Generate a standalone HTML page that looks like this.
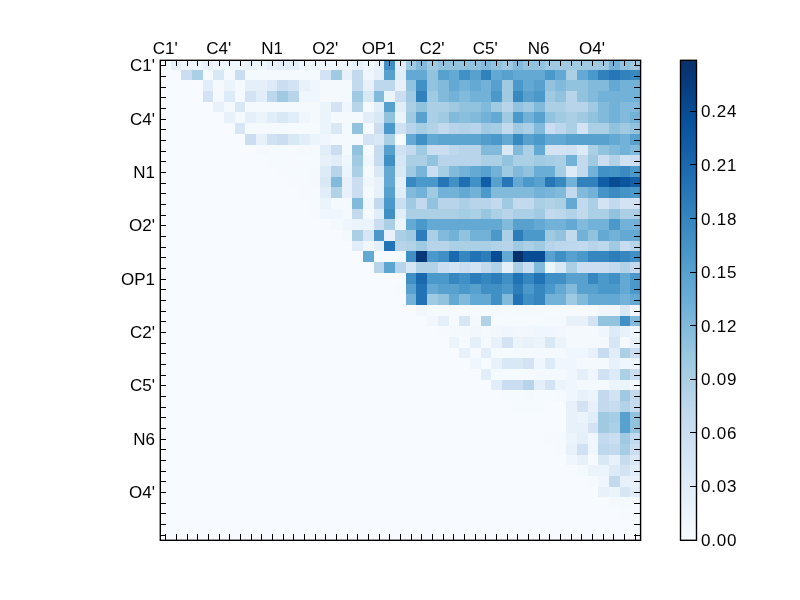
<!DOCTYPE html>
<html><head><meta charset="utf-8"><style>
html,body{margin:0;padding:0;background:#fff;}
body{width:800px;height:600px;overflow:hidden;position:relative;}
svg{position:absolute;left:0;top:0;}
.t{will-change:transform;}
text{font-family:"Liberation Sans",sans-serif;font-size:17px;fill:#000;}
</style></head><body>
<svg width="800" height="600" viewBox="0 0 800 600">
<defs><linearGradient id="cb" x1="0" y1="1" x2="0" y2="0"><stop offset="0.0000" stop-color="#f7fbff"/><stop offset="0.0312" stop-color="#f1f7fd"/><stop offset="0.0625" stop-color="#eaf3fb"/><stop offset="0.0938" stop-color="#e4eff9"/><stop offset="0.1250" stop-color="#deebf7"/><stop offset="0.1562" stop-color="#d8e7f5"/><stop offset="0.1875" stop-color="#d2e3f3"/><stop offset="0.2188" stop-color="#ccdff1"/><stop offset="0.2500" stop-color="#c6dbef"/><stop offset="0.2812" stop-color="#bcd7eb"/><stop offset="0.3125" stop-color="#b2d2e8"/><stop offset="0.3438" stop-color="#a8cee4"/><stop offset="0.3750" stop-color="#9dcae1"/><stop offset="0.4062" stop-color="#91c3de"/><stop offset="0.4375" stop-color="#84bcdb"/><stop offset="0.4688" stop-color="#77b5d9"/><stop offset="0.5000" stop-color="#6aaed6"/><stop offset="0.5312" stop-color="#60a7d2"/><stop offset="0.5625" stop-color="#56a0ce"/><stop offset="0.5938" stop-color="#4b98ca"/><stop offset="0.6250" stop-color="#4191c6"/><stop offset="0.6562" stop-color="#3989c1"/><stop offset="0.6875" stop-color="#3181bd"/><stop offset="0.7188" stop-color="#2979b9"/><stop offset="0.7500" stop-color="#2070b4"/><stop offset="0.7812" stop-color="#1a68ae"/><stop offset="0.8125" stop-color="#1460a8"/><stop offset="0.8438" stop-color="#0e58a2"/><stop offset="0.8750" stop-color="#08509b"/><stop offset="0.9062" stop-color="#08488e"/><stop offset="0.9375" stop-color="#084082"/><stop offset="0.9688" stop-color="#083776"/><stop offset="1.0000" stop-color="#08306b"/></linearGradient><clipPath id="ax"><rect x="160" y="60" width="480" height="480"/></clipPath></defs>
<g clip-path="url(#ax)" shape-rendering="crispEdges">
<rect x="160" y="60" width="480" height="480" fill="#f7fbff"/><rect x="171" y="59" width="10" height="11" fill="#e5eff9"/><rect x="181" y="59" width="11" height="11" fill="#f0f6fd"/><rect x="192" y="59" width="11" height="11" fill="#f0f6fd"/><rect x="203" y="59" width="10" height="11" fill="#e8f1fa"/><rect x="213" y="59" width="11" height="11" fill="#f0f6fd"/><rect x="224" y="59" width="11" height="11" fill="#f0f6fd"/><rect x="235" y="59" width="10" height="11" fill="#f0f6fd"/><rect x="245" y="59" width="11" height="11" fill="#ecf4fb"/><rect x="256" y="59" width="11" height="11" fill="#f0f6fd"/><rect x="267" y="59" width="10" height="11" fill="#e8f1fa"/><rect x="277" y="59" width="11" height="11" fill="#e5eff9"/><rect x="288" y="59" width="11" height="11" fill="#e5eff9"/><rect x="299" y="59" width="11" height="11" fill="#f0f6fd"/><rect x="310" y="59" width="10" height="11" fill="#f0f6fd"/><rect x="320" y="59" width="11" height="11" fill="#f0f6fd"/><rect x="331" y="59" width="11" height="11" fill="#f0f6fd"/><rect x="342" y="59" width="10" height="11" fill="#f0f6fd"/><rect x="352" y="59" width="11" height="11" fill="#e8f1fa"/><rect x="363" y="59" width="11" height="11" fill="#f0f6fd"/><rect x="374" y="59" width="10" height="11" fill="#e8f1fa"/><rect x="384" y="59" width="11" height="11" fill="#4090c5"/><rect x="395" y="59" width="11" height="11" fill="#e1edf8"/><rect x="406" y="59" width="10" height="11" fill="#9fcae1"/><rect x="416" y="59" width="11" height="11" fill="#81badb"/><rect x="427" y="59" width="11" height="11" fill="#9fcae1"/><rect x="438" y="59" width="11" height="11" fill="#91c3de"/><rect x="449" y="59" width="10" height="11" fill="#91c3de"/><rect x="459" y="59" width="11" height="11" fill="#91c3de"/><rect x="470" y="59" width="11" height="11" fill="#91c3de"/><rect x="481" y="59" width="10" height="11" fill="#81badb"/><rect x="491" y="59" width="11" height="11" fill="#91c3de"/><rect x="502" y="59" width="11" height="11" fill="#9fcae1"/><rect x="513" y="59" width="10" height="11" fill="#81badb"/><rect x="523" y="59" width="11" height="11" fill="#91c3de"/><rect x="534" y="59" width="11" height="11" fill="#91c3de"/><rect x="545" y="59" width="10" height="11" fill="#9fcae1"/><rect x="555" y="59" width="11" height="11" fill="#9fcae1"/><rect x="566" y="59" width="11" height="11" fill="#9fcae1"/><rect x="577" y="59" width="11" height="11" fill="#9fcae1"/><rect x="588" y="59" width="10" height="11" fill="#9fcae1"/><rect x="598" y="59" width="11" height="11" fill="#9fcae1"/><rect x="609" y="59" width="11" height="11" fill="#72b2d8"/><rect x="620" y="59" width="10" height="11" fill="#91c3de"/><rect x="630" y="59" width="11" height="11" fill="#9fcae1"/><rect x="181" y="70" width="11" height="10" fill="#cbdef1"/><rect x="192" y="70" width="11" height="10" fill="#abd0e6"/><rect x="203" y="70" width="10" height="10" fill="#f4f9fe"/><rect x="213" y="70" width="11" height="10" fill="#d9e8f5"/><rect x="224" y="70" width="11" height="10" fill="#f4f9fe"/><rect x="235" y="70" width="10" height="10" fill="#cbdef1"/><rect x="245" y="70" width="11" height="10" fill="#f4f9fe"/><rect x="256" y="70" width="11" height="10" fill="#f4f9fe"/><rect x="267" y="70" width="10" height="10" fill="#f4f9fe"/><rect x="277" y="70" width="11" height="10" fill="#f4f9fe"/><rect x="288" y="70" width="11" height="10" fill="#f4f9fe"/><rect x="299" y="70" width="11" height="10" fill="#f4f9fe"/><rect x="310" y="70" width="10" height="10" fill="#f4f9fe"/><rect x="320" y="70" width="11" height="10" fill="#d3e3f3"/><rect x="331" y="70" width="11" height="10" fill="#9fcae1"/><rect x="342" y="70" width="10" height="10" fill="#e8f1fa"/><rect x="352" y="70" width="11" height="10" fill="#c3daee"/><rect x="363" y="70" width="11" height="10" fill="#f0f6fd"/><rect x="374" y="70" width="10" height="10" fill="#e5eff9"/><rect x="384" y="70" width="11" height="10" fill="#58a1cf"/><rect x="395" y="70" width="11" height="10" fill="#e1edf8"/><rect x="406" y="70" width="10" height="10" fill="#64a9d3"/><rect x="416" y="70" width="11" height="10" fill="#64a9d3"/><rect x="427" y="70" width="11" height="10" fill="#91c3de"/><rect x="438" y="70" width="11" height="10" fill="#58a1cf"/><rect x="449" y="70" width="10" height="10" fill="#64a9d3"/><rect x="459" y="70" width="11" height="10" fill="#4191c6"/><rect x="470" y="70" width="11" height="10" fill="#58a1cf"/><rect x="481" y="70" width="10" height="10" fill="#3181bd"/><rect x="491" y="70" width="11" height="10" fill="#64a9d3"/><rect x="502" y="70" width="11" height="10" fill="#58a1cf"/><rect x="513" y="70" width="10" height="10" fill="#64a9d3"/><rect x="523" y="70" width="11" height="10" fill="#64a9d3"/><rect x="534" y="70" width="11" height="10" fill="#64a9d3"/><rect x="545" y="70" width="10" height="10" fill="#4b98ca"/><rect x="555" y="70" width="11" height="10" fill="#64a9d3"/><rect x="566" y="70" width="11" height="10" fill="#abd0e6"/><rect x="577" y="70" width="11" height="10" fill="#64a9d3"/><rect x="588" y="70" width="10" height="10" fill="#4b98ca"/><rect x="598" y="70" width="11" height="10" fill="#3181bd"/><rect x="609" y="70" width="11" height="10" fill="#2777b8"/><rect x="620" y="70" width="10" height="10" fill="#3181bd"/><rect x="630" y="70" width="11" height="10" fill="#3989c1"/><rect x="203" y="80" width="10" height="11" fill="#e1edf8"/><rect x="213" y="80" width="11" height="11" fill="#f4f9fe"/><rect x="224" y="80" width="11" height="11" fill="#ecf4fb"/><rect x="235" y="80" width="10" height="11" fill="#f4f9fe"/><rect x="245" y="80" width="11" height="11" fill="#e5eff9"/><rect x="256" y="80" width="11" height="11" fill="#e5eff9"/><rect x="267" y="80" width="10" height="11" fill="#ddeaf7"/><rect x="277" y="80" width="11" height="11" fill="#cbdef1"/><rect x="288" y="80" width="11" height="11" fill="#d3e3f3"/><rect x="299" y="80" width="11" height="11" fill="#e8f1fa"/><rect x="310" y="80" width="10" height="11" fill="#f0f6fd"/><rect x="320" y="80" width="11" height="11" fill="#f4f9fe"/><rect x="331" y="80" width="11" height="11" fill="#f4f9fe"/><rect x="342" y="80" width="10" height="11" fill="#f4f9fe"/><rect x="352" y="80" width="11" height="11" fill="#c3daee"/><rect x="363" y="80" width="11" height="11" fill="#e8f1fa"/><rect x="374" y="80" width="10" height="11" fill="#bdd7ec"/><rect x="384" y="80" width="11" height="11" fill="#bdd7ec"/><rect x="395" y="80" width="11" height="11" fill="#e8f1fa"/><rect x="406" y="80" width="10" height="11" fill="#91c3de"/><rect x="416" y="80" width="11" height="11" fill="#4191c6"/><rect x="427" y="80" width="11" height="11" fill="#91c3de"/><rect x="438" y="80" width="11" height="11" fill="#81badb"/><rect x="449" y="80" width="10" height="11" fill="#64a9d3"/><rect x="459" y="80" width="11" height="11" fill="#72b2d8"/><rect x="470" y="80" width="11" height="11" fill="#64a9d3"/><rect x="481" y="80" width="10" height="11" fill="#72b2d8"/><rect x="491" y="80" width="11" height="11" fill="#58a1cf"/><rect x="502" y="80" width="11" height="11" fill="#9fcae1"/><rect x="513" y="80" width="10" height="11" fill="#4b98ca"/><rect x="523" y="80" width="11" height="11" fill="#64a9d3"/><rect x="534" y="80" width="11" height="11" fill="#58a1cf"/><rect x="545" y="80" width="10" height="11" fill="#91c3de"/><rect x="555" y="80" width="11" height="11" fill="#81badb"/><rect x="566" y="80" width="11" height="11" fill="#91c3de"/><rect x="577" y="80" width="11" height="11" fill="#91c3de"/><rect x="588" y="80" width="10" height="11" fill="#81badb"/><rect x="598" y="80" width="11" height="11" fill="#81badb"/><rect x="609" y="80" width="11" height="11" fill="#64a9d3"/><rect x="620" y="80" width="10" height="11" fill="#72b2d8"/><rect x="630" y="80" width="11" height="11" fill="#72b2d8"/><rect x="203" y="91" width="10" height="11" fill="#d3e3f3"/><rect x="213" y="91" width="11" height="11" fill="#f4f9fe"/><rect x="224" y="91" width="11" height="11" fill="#ddeaf7"/><rect x="235" y="91" width="10" height="11" fill="#f4f9fe"/><rect x="245" y="91" width="11" height="11" fill="#d3e3f3"/><rect x="256" y="91" width="11" height="11" fill="#e1edf8"/><rect x="267" y="91" width="10" height="11" fill="#bdd7ec"/><rect x="277" y="91" width="11" height="11" fill="#9fcae1"/><rect x="288" y="91" width="11" height="11" fill="#b7d4ea"/><rect x="299" y="91" width="11" height="11" fill="#f0f6fd"/><rect x="310" y="91" width="10" height="11" fill="#f0f6fd"/><rect x="320" y="91" width="11" height="11" fill="#f4f9fe"/><rect x="331" y="91" width="11" height="11" fill="#f4f9fe"/><rect x="342" y="91" width="10" height="11" fill="#f4f9fe"/><rect x="352" y="91" width="11" height="11" fill="#9fcae1"/><rect x="363" y="91" width="11" height="11" fill="#d9e8f5"/><rect x="374" y="91" width="10" height="11" fill="#81badb"/><rect x="384" y="91" width="11" height="11" fill="#ecf4fb"/><rect x="395" y="91" width="11" height="11" fill="#cbdef1"/><rect x="406" y="91" width="10" height="11" fill="#9fcae1"/><rect x="416" y="91" width="11" height="11" fill="#3181bd"/><rect x="427" y="91" width="11" height="11" fill="#9fcae1"/><rect x="438" y="91" width="11" height="11" fill="#81badb"/><rect x="449" y="91" width="10" height="11" fill="#72b2d8"/><rect x="459" y="91" width="11" height="11" fill="#81badb"/><rect x="470" y="91" width="11" height="11" fill="#72b2d8"/><rect x="481" y="91" width="10" height="11" fill="#72b2d8"/><rect x="491" y="91" width="11" height="11" fill="#4b98ca"/><rect x="502" y="91" width="11" height="11" fill="#9fcae1"/><rect x="513" y="91" width="10" height="11" fill="#3989c1"/><rect x="523" y="91" width="11" height="11" fill="#58a1cf"/><rect x="534" y="91" width="11" height="11" fill="#4b98ca"/><rect x="545" y="91" width="10" height="11" fill="#9fcae1"/><rect x="555" y="91" width="11" height="11" fill="#91c3de"/><rect x="566" y="91" width="11" height="11" fill="#b7d4ea"/><rect x="577" y="91" width="11" height="11" fill="#91c3de"/><rect x="588" y="91" width="10" height="11" fill="#81badb"/><rect x="598" y="91" width="11" height="11" fill="#72b2d8"/><rect x="609" y="91" width="11" height="11" fill="#72b2d8"/><rect x="620" y="91" width="10" height="11" fill="#72b2d8"/><rect x="630" y="91" width="11" height="11" fill="#72b2d8"/><rect x="213" y="102" width="11" height="10" fill="#e8f1fa"/><rect x="224" y="102" width="11" height="10" fill="#f4f9fe"/><rect x="235" y="102" width="10" height="10" fill="#d9e8f5"/><rect x="245" y="102" width="11" height="10" fill="#f4f9fe"/><rect x="256" y="102" width="11" height="10" fill="#f4f9fe"/><rect x="267" y="102" width="10" height="10" fill="#f4f9fe"/><rect x="277" y="102" width="11" height="10" fill="#f4f9fe"/><rect x="288" y="102" width="11" height="10" fill="#f4f9fe"/><rect x="299" y="102" width="11" height="10" fill="#f4f9fe"/><rect x="310" y="102" width="10" height="10" fill="#f4f9fe"/><rect x="320" y="102" width="11" height="10" fill="#ecf4fb"/><rect x="331" y="102" width="11" height="10" fill="#d3e3f3"/><rect x="342" y="102" width="10" height="10" fill="#f0f6fd"/><rect x="352" y="102" width="11" height="10" fill="#b7d4ea"/><rect x="363" y="102" width="11" height="10" fill="#f4f9fe"/><rect x="374" y="102" width="10" height="10" fill="#e1edf8"/><rect x="384" y="102" width="11" height="10" fill="#58a1cf"/><rect x="395" y="102" width="11" height="10" fill="#e1edf8"/><rect x="406" y="102" width="10" height="10" fill="#abd0e6"/><rect x="416" y="102" width="11" height="10" fill="#91c3de"/><rect x="427" y="102" width="11" height="10" fill="#abd0e6"/><rect x="438" y="102" width="11" height="10" fill="#abd0e6"/><rect x="449" y="102" width="10" height="10" fill="#9fcae1"/><rect x="459" y="102" width="11" height="10" fill="#91c3de"/><rect x="470" y="102" width="11" height="10" fill="#91c3de"/><rect x="481" y="102" width="10" height="10" fill="#81badb"/><rect x="491" y="102" width="11" height="10" fill="#9fcae1"/><rect x="502" y="102" width="11" height="10" fill="#b7d4ea"/><rect x="513" y="102" width="10" height="10" fill="#91c3de"/><rect x="523" y="102" width="11" height="10" fill="#9fcae1"/><rect x="534" y="102" width="11" height="10" fill="#81badb"/><rect x="545" y="102" width="10" height="10" fill="#abd0e6"/><rect x="555" y="102" width="11" height="10" fill="#abd0e6"/><rect x="566" y="102" width="11" height="10" fill="#b7d4ea"/><rect x="577" y="102" width="11" height="10" fill="#b7d4ea"/><rect x="588" y="102" width="10" height="10" fill="#9fcae1"/><rect x="598" y="102" width="11" height="10" fill="#81badb"/><rect x="609" y="102" width="11" height="10" fill="#72b2d8"/><rect x="620" y="102" width="10" height="10" fill="#81badb"/><rect x="630" y="102" width="11" height="10" fill="#81badb"/><rect x="224" y="112" width="11" height="11" fill="#e8f1fa"/><rect x="235" y="112" width="10" height="11" fill="#f4f9fe"/><rect x="245" y="112" width="11" height="11" fill="#e5eff9"/><rect x="256" y="112" width="11" height="11" fill="#ecf4fb"/><rect x="267" y="112" width="10" height="11" fill="#e1edf8"/><rect x="277" y="112" width="11" height="11" fill="#d9e8f5"/><rect x="288" y="112" width="11" height="11" fill="#e1edf8"/><rect x="299" y="112" width="11" height="11" fill="#f0f6fd"/><rect x="310" y="112" width="10" height="11" fill="#f4f9fe"/><rect x="320" y="112" width="11" height="11" fill="#ecf4fb"/><rect x="331" y="112" width="11" height="11" fill="#f4f9fe"/><rect x="342" y="112" width="10" height="11" fill="#f4f9fe"/><rect x="352" y="112" width="11" height="11" fill="#f4f9fe"/><rect x="363" y="112" width="11" height="11" fill="#e1edf8"/><rect x="374" y="112" width="10" height="11" fill="#d9e8f5"/><rect x="384" y="112" width="11" height="11" fill="#91c3de"/><rect x="395" y="112" width="11" height="11" fill="#ecf4fb"/><rect x="406" y="112" width="10" height="11" fill="#9fcae1"/><rect x="416" y="112" width="11" height="11" fill="#58a1cf"/><rect x="427" y="112" width="11" height="11" fill="#abd0e6"/><rect x="438" y="112" width="11" height="11" fill="#9fcae1"/><rect x="449" y="112" width="10" height="11" fill="#81badb"/><rect x="459" y="112" width="11" height="11" fill="#89bedc"/><rect x="470" y="112" width="11" height="11" fill="#81badb"/><rect x="481" y="112" width="10" height="11" fill="#72b2d8"/><rect x="491" y="112" width="11" height="11" fill="#64a9d3"/><rect x="502" y="112" width="11" height="11" fill="#9fcae1"/><rect x="513" y="112" width="10" height="11" fill="#4b98ca"/><rect x="523" y="112" width="11" height="11" fill="#72b2d8"/><rect x="534" y="112" width="11" height="11" fill="#58a1cf"/><rect x="545" y="112" width="10" height="11" fill="#91c3de"/><rect x="555" y="112" width="11" height="11" fill="#9fcae1"/><rect x="566" y="112" width="11" height="11" fill="#abd0e6"/><rect x="577" y="112" width="11" height="11" fill="#9fcae1"/><rect x="588" y="112" width="10" height="11" fill="#91c3de"/><rect x="598" y="112" width="11" height="11" fill="#81badb"/><rect x="609" y="112" width="11" height="11" fill="#72b2d8"/><rect x="620" y="112" width="10" height="11" fill="#81badb"/><rect x="630" y="112" width="11" height="11" fill="#72b2d8"/><rect x="235" y="123" width="10" height="11" fill="#d6e6f4"/><rect x="245" y="123" width="11" height="11" fill="#f4f9fe"/><rect x="256" y="123" width="11" height="11" fill="#f4f9fe"/><rect x="267" y="123" width="10" height="11" fill="#f4f9fe"/><rect x="277" y="123" width="11" height="11" fill="#f4f9fe"/><rect x="288" y="123" width="11" height="11" fill="#f5fafe"/><rect x="299" y="123" width="11" height="11" fill="#f5fafe"/><rect x="310" y="123" width="10" height="11" fill="#f5fafe"/><rect x="320" y="123" width="11" height="11" fill="#ecf4fb"/><rect x="331" y="123" width="11" height="11" fill="#d9e8f5"/><rect x="342" y="123" width="10" height="11" fill="#f4f9fe"/><rect x="352" y="123" width="11" height="11" fill="#91c3de"/><rect x="363" y="123" width="11" height="11" fill="#f4f9fe"/><rect x="374" y="123" width="10" height="11" fill="#cbdef1"/><rect x="384" y="123" width="11" height="11" fill="#4b98ca"/><rect x="395" y="123" width="11" height="11" fill="#cfe1f2"/><rect x="406" y="123" width="10" height="11" fill="#b7d4ea"/><rect x="416" y="123" width="11" height="11" fill="#a5cde3"/><rect x="427" y="123" width="11" height="11" fill="#b2d2e8"/><rect x="438" y="123" width="11" height="11" fill="#c3daee"/><rect x="449" y="123" width="10" height="11" fill="#b7d4ea"/><rect x="459" y="123" width="11" height="11" fill="#b2d2e8"/><rect x="470" y="123" width="11" height="11" fill="#b7d4ea"/><rect x="481" y="123" width="10" height="11" fill="#9fcae1"/><rect x="491" y="123" width="11" height="11" fill="#a5cde3"/><rect x="502" y="123" width="11" height="11" fill="#c3daee"/><rect x="513" y="123" width="10" height="11" fill="#9fcae1"/><rect x="523" y="123" width="11" height="11" fill="#abd0e6"/><rect x="534" y="123" width="11" height="11" fill="#81badb"/><rect x="545" y="123" width="10" height="11" fill="#cbdef1"/><rect x="555" y="123" width="11" height="11" fill="#bdd7ec"/><rect x="566" y="123" width="11" height="11" fill="#abd0e6"/><rect x="577" y="123" width="11" height="11" fill="#d3e3f3"/><rect x="588" y="123" width="10" height="11" fill="#abd0e6"/><rect x="598" y="123" width="11" height="11" fill="#abd0e6"/><rect x="609" y="123" width="11" height="11" fill="#91c3de"/><rect x="620" y="123" width="10" height="11" fill="#9fcae1"/><rect x="630" y="123" width="11" height="11" fill="#91c3de"/><rect x="245" y="134" width="11" height="11" fill="#cbdef1"/><rect x="256" y="134" width="11" height="11" fill="#e8f1fa"/><rect x="267" y="134" width="10" height="11" fill="#cfe1f2"/><rect x="277" y="134" width="11" height="11" fill="#cbdef1"/><rect x="288" y="134" width="11" height="11" fill="#d9e8f5"/><rect x="299" y="134" width="11" height="11" fill="#e1edf8"/><rect x="310" y="134" width="10" height="11" fill="#ecf4fb"/><rect x="320" y="134" width="11" height="11" fill="#f0f6fd"/><rect x="331" y="134" width="11" height="11" fill="#f4f9fe"/><rect x="342" y="134" width="10" height="11" fill="#f4f9fe"/><rect x="352" y="134" width="11" height="11" fill="#f4f9fe"/><rect x="363" y="134" width="11" height="11" fill="#d3e3f3"/><rect x="374" y="134" width="10" height="11" fill="#d9e8f5"/><rect x="384" y="134" width="11" height="11" fill="#abd0e6"/><rect x="395" y="134" width="11" height="11" fill="#f5fafe"/><rect x="406" y="134" width="10" height="11" fill="#64a9d3"/><rect x="416" y="134" width="11" height="11" fill="#4090c5"/><rect x="427" y="134" width="11" height="11" fill="#64a9d3"/><rect x="438" y="134" width="11" height="11" fill="#5da5d1"/><rect x="449" y="134" width="10" height="11" fill="#5da5d1"/><rect x="459" y="134" width="11" height="11" fill="#5da5d1"/><rect x="470" y="134" width="11" height="11" fill="#5da5d1"/><rect x="481" y="134" width="10" height="11" fill="#529dcc"/><rect x="491" y="134" width="11" height="11" fill="#4b98ca"/><rect x="502" y="134" width="11" height="11" fill="#64a9d3"/><rect x="513" y="134" width="10" height="11" fill="#3989c1"/><rect x="523" y="134" width="11" height="11" fill="#58a1cf"/><rect x="534" y="134" width="11" height="11" fill="#4b98ca"/><rect x="545" y="134" width="10" height="11" fill="#64a9d3"/><rect x="555" y="134" width="11" height="11" fill="#64a9d3"/><rect x="566" y="134" width="11" height="11" fill="#58a1cf"/><rect x="577" y="134" width="11" height="11" fill="#58a1cf"/><rect x="588" y="134" width="10" height="11" fill="#58a1cf"/><rect x="598" y="134" width="11" height="11" fill="#58a1cf"/><rect x="609" y="134" width="11" height="11" fill="#64a9d3"/><rect x="620" y="134" width="10" height="11" fill="#72b2d8"/><rect x="630" y="134" width="11" height="11" fill="#58a1cf"/><rect x="256" y="145" width="11" height="10" fill="#f4f9fe"/><rect x="267" y="145" width="10" height="10" fill="#f5fafe"/><rect x="277" y="145" width="11" height="10" fill="#f5fafe"/><rect x="288" y="145" width="11" height="10" fill="#f6faff"/><rect x="299" y="145" width="11" height="10" fill="#f4f9fe"/><rect x="310" y="145" width="10" height="10" fill="#f5fafe"/><rect x="320" y="145" width="11" height="10" fill="#e1edf8"/><rect x="331" y="145" width="11" height="10" fill="#cbdef1"/><rect x="342" y="145" width="10" height="10" fill="#f4f9fe"/><rect x="352" y="145" width="11" height="10" fill="#91c3de"/><rect x="363" y="145" width="11" height="10" fill="#f4f9fe"/><rect x="374" y="145" width="10" height="10" fill="#c8dcf0"/><rect x="384" y="145" width="11" height="10" fill="#58a1cf"/><rect x="395" y="145" width="11" height="10" fill="#cfe1f2"/><rect x="406" y="145" width="10" height="10" fill="#c3daee"/><rect x="416" y="145" width="11" height="10" fill="#9fcae1"/><rect x="427" y="145" width="11" height="10" fill="#cbdef1"/><rect x="438" y="145" width="11" height="10" fill="#cbdef1"/><rect x="449" y="145" width="10" height="10" fill="#bdd7ec"/><rect x="459" y="145" width="11" height="10" fill="#b7d4ea"/><rect x="470" y="145" width="11" height="10" fill="#b7d4ea"/><rect x="481" y="145" width="10" height="10" fill="#81badb"/><rect x="491" y="145" width="11" height="10" fill="#81badb"/><rect x="502" y="145" width="11" height="10" fill="#d9e8f5"/><rect x="513" y="145" width="10" height="10" fill="#81badb"/><rect x="523" y="145" width="11" height="10" fill="#abd0e6"/><rect x="534" y="145" width="11" height="10" fill="#64a9d3"/><rect x="545" y="145" width="10" height="10" fill="#d3e3f3"/><rect x="555" y="145" width="11" height="10" fill="#d3e3f3"/><rect x="566" y="145" width="11" height="10" fill="#cfe1f2"/><rect x="577" y="145" width="11" height="10" fill="#ddeaf7"/><rect x="588" y="145" width="10" height="10" fill="#abd0e6"/><rect x="598" y="145" width="11" height="10" fill="#91c3de"/><rect x="609" y="145" width="11" height="10" fill="#81badb"/><rect x="620" y="145" width="10" height="10" fill="#72b2d8"/><rect x="630" y="145" width="11" height="10" fill="#81badb"/><rect x="267" y="155" width="10" height="11" fill="#f5fafe"/><rect x="277" y="155" width="11" height="11" fill="#f5fafe"/><rect x="288" y="155" width="11" height="11" fill="#f6faff"/><rect x="299" y="155" width="11" height="11" fill="#f5fafe"/><rect x="310" y="155" width="10" height="11" fill="#f5fafe"/><rect x="320" y="155" width="11" height="11" fill="#e8f1fa"/><rect x="331" y="155" width="11" height="11" fill="#e1edf8"/><rect x="342" y="155" width="10" height="11" fill="#f0f6fd"/><rect x="352" y="155" width="11" height="11" fill="#9fcae1"/><rect x="363" y="155" width="11" height="11" fill="#f0f6fd"/><rect x="374" y="155" width="10" height="11" fill="#c8dcf0"/><rect x="384" y="155" width="11" height="11" fill="#4090c5"/><rect x="395" y="155" width="11" height="11" fill="#d6e6f4"/><rect x="406" y="155" width="10" height="11" fill="#abd0e6"/><rect x="416" y="155" width="11" height="11" fill="#abd0e6"/><rect x="427" y="155" width="11" height="11" fill="#91c3de"/><rect x="438" y="155" width="11" height="11" fill="#b7d4ea"/><rect x="449" y="155" width="10" height="11" fill="#b7d4ea"/><rect x="459" y="155" width="11" height="11" fill="#b7d4ea"/><rect x="470" y="155" width="11" height="11" fill="#b7d4ea"/><rect x="481" y="155" width="10" height="11" fill="#abd0e6"/><rect x="491" y="155" width="11" height="11" fill="#abd0e6"/><rect x="502" y="155" width="11" height="11" fill="#91c3de"/><rect x="513" y="155" width="10" height="11" fill="#abd0e6"/><rect x="523" y="155" width="11" height="11" fill="#abd0e6"/><rect x="534" y="155" width="11" height="11" fill="#9fcae1"/><rect x="545" y="155" width="10" height="11" fill="#a5cde3"/><rect x="555" y="155" width="11" height="11" fill="#abd0e6"/><rect x="566" y="155" width="11" height="11" fill="#72b2d8"/><rect x="577" y="155" width="11" height="11" fill="#c3daee"/><rect x="588" y="155" width="10" height="11" fill="#9fcae1"/><rect x="598" y="155" width="11" height="11" fill="#cbdef1"/><rect x="609" y="155" width="11" height="11" fill="#b2d2e8"/><rect x="620" y="155" width="10" height="11" fill="#d0e2f2"/><rect x="630" y="155" width="11" height="11" fill="#cbdef1"/><rect x="277" y="166" width="11" height="11" fill="#f6faff"/><rect x="288" y="166" width="11" height="11" fill="#f5fafe"/><rect x="299" y="166" width="11" height="11" fill="#f5fafe"/><rect x="310" y="166" width="10" height="11" fill="#f4f9fe"/><rect x="320" y="166" width="11" height="11" fill="#ddeaf7"/><rect x="331" y="166" width="11" height="11" fill="#b7d4ea"/><rect x="342" y="166" width="10" height="11" fill="#ecf4fb"/><rect x="352" y="166" width="11" height="11" fill="#abd0e6"/><rect x="363" y="166" width="11" height="11" fill="#f4f9fe"/><rect x="374" y="166" width="10" height="11" fill="#d9e8f5"/><rect x="384" y="166" width="11" height="11" fill="#64a9d3"/><rect x="395" y="166" width="11" height="11" fill="#d9e8f5"/><rect x="406" y="166" width="10" height="11" fill="#9fcae1"/><rect x="416" y="166" width="11" height="11" fill="#79b5d9"/><rect x="427" y="166" width="11" height="11" fill="#cbdef1"/><rect x="438" y="166" width="11" height="11" fill="#a5cde3"/><rect x="449" y="166" width="10" height="11" fill="#81badb"/><rect x="459" y="166" width="11" height="11" fill="#72b2d8"/><rect x="470" y="166" width="11" height="11" fill="#64a9d3"/><rect x="481" y="166" width="10" height="11" fill="#58a1cf"/><rect x="491" y="166" width="11" height="11" fill="#72b2d8"/><rect x="502" y="166" width="11" height="11" fill="#9fcae1"/><rect x="513" y="166" width="10" height="11" fill="#81badb"/><rect x="523" y="166" width="11" height="11" fill="#91c3de"/><rect x="534" y="166" width="11" height="11" fill="#6aaed6"/><rect x="545" y="166" width="10" height="11" fill="#6aaed6"/><rect x="555" y="166" width="11" height="11" fill="#a5cde3"/><rect x="566" y="166" width="11" height="11" fill="#ddeaf7"/><rect x="577" y="166" width="11" height="11" fill="#c3daee"/><rect x="588" y="166" width="10" height="11" fill="#72b2d8"/><rect x="598" y="166" width="11" height="11" fill="#4191c6"/><rect x="609" y="166" width="11" height="11" fill="#4594c7"/><rect x="620" y="166" width="10" height="11" fill="#3b8bc2"/><rect x="630" y="166" width="11" height="11" fill="#4b98ca"/><rect x="288" y="177" width="11" height="10" fill="#f6faff"/><rect x="299" y="177" width="11" height="10" fill="#f5fafe"/><rect x="310" y="177" width="10" height="10" fill="#f5f9fe"/><rect x="320" y="177" width="11" height="10" fill="#d9e8f5"/><rect x="331" y="177" width="11" height="10" fill="#81badb"/><rect x="342" y="177" width="10" height="10" fill="#e8f1fa"/><rect x="352" y="177" width="11" height="10" fill="#cbdef1"/><rect x="363" y="177" width="11" height="10" fill="#f0f6fd"/><rect x="374" y="177" width="10" height="10" fill="#e8f1fa"/><rect x="384" y="177" width="11" height="10" fill="#64a9d3"/><rect x="395" y="177" width="11" height="10" fill="#e5eff9"/><rect x="406" y="177" width="10" height="10" fill="#3989c1"/><rect x="416" y="177" width="11" height="10" fill="#4b98ca"/><rect x="427" y="177" width="11" height="10" fill="#4b98ca"/><rect x="438" y="177" width="11" height="10" fill="#2777b8"/><rect x="449" y="177" width="10" height="10" fill="#4191c6"/><rect x="459" y="177" width="11" height="10" fill="#206fb4"/><rect x="470" y="177" width="11" height="10" fill="#4191c6"/><rect x="481" y="177" width="10" height="10" fill="#125ea6"/><rect x="491" y="177" width="11" height="10" fill="#58a1cf"/><rect x="502" y="177" width="11" height="10" fill="#2777b8"/><rect x="513" y="177" width="10" height="10" fill="#64a9d3"/><rect x="523" y="177" width="11" height="10" fill="#4b98ca"/><rect x="534" y="177" width="11" height="10" fill="#58a1cf"/><rect x="545" y="177" width="10" height="10" fill="#2777b8"/><rect x="555" y="177" width="11" height="10" fill="#3989c1"/><rect x="566" y="177" width="11" height="10" fill="#72b2d8"/><rect x="577" y="177" width="11" height="10" fill="#3181bd"/><rect x="588" y="177" width="10" height="10" fill="#3181bd"/><rect x="598" y="177" width="11" height="10" fill="#125ea6"/><rect x="609" y="177" width="11" height="10" fill="#084c95"/><rect x="620" y="177" width="10" height="10" fill="#0b559f"/><rect x="630" y="177" width="11" height="10" fill="#135fa7"/><rect x="299" y="187" width="11" height="11" fill="#f6faff"/><rect x="310" y="187" width="10" height="11" fill="#f5fafe"/><rect x="320" y="187" width="11" height="11" fill="#e1edf8"/><rect x="331" y="187" width="11" height="11" fill="#b2d2e8"/><rect x="342" y="187" width="10" height="11" fill="#e8f1fa"/><rect x="352" y="187" width="11" height="11" fill="#cbdef1"/><rect x="363" y="187" width="11" height="11" fill="#f4f9fe"/><rect x="374" y="187" width="10" height="11" fill="#e8f1fa"/><rect x="384" y="187" width="11" height="11" fill="#58a1cf"/><rect x="395" y="187" width="11" height="11" fill="#e1edf8"/><rect x="406" y="187" width="10" height="11" fill="#81badb"/><rect x="416" y="187" width="11" height="11" fill="#72b2d8"/><rect x="427" y="187" width="11" height="11" fill="#9fcae1"/><rect x="438" y="187" width="11" height="11" fill="#72b2d8"/><rect x="449" y="187" width="10" height="11" fill="#72b2d8"/><rect x="459" y="187" width="11" height="11" fill="#64a9d3"/><rect x="470" y="187" width="11" height="11" fill="#72b2d8"/><rect x="481" y="187" width="10" height="11" fill="#4b98ca"/><rect x="491" y="187" width="11" height="11" fill="#81badb"/><rect x="502" y="187" width="11" height="11" fill="#81badb"/><rect x="513" y="187" width="10" height="11" fill="#81badb"/><rect x="523" y="187" width="11" height="11" fill="#81badb"/><rect x="534" y="187" width="11" height="11" fill="#72b2d8"/><rect x="545" y="187" width="10" height="11" fill="#79b5d9"/><rect x="555" y="187" width="11" height="11" fill="#81badb"/><rect x="566" y="187" width="11" height="11" fill="#c3daee"/><rect x="577" y="187" width="11" height="11" fill="#81badb"/><rect x="588" y="187" width="10" height="11" fill="#72b2d8"/><rect x="598" y="187" width="11" height="11" fill="#4594c7"/><rect x="609" y="187" width="11" height="11" fill="#3b8bc2"/><rect x="620" y="187" width="10" height="11" fill="#4594c7"/><rect x="630" y="187" width="11" height="11" fill="#4b98ca"/><rect x="310" y="198" width="10" height="11" fill="#f5fafe"/><rect x="320" y="198" width="11" height="11" fill="#ecf4fb"/><rect x="331" y="198" width="11" height="11" fill="#f4f9fe"/><rect x="342" y="198" width="10" height="11" fill="#f4f9fe"/><rect x="352" y="198" width="11" height="11" fill="#81badb"/><rect x="363" y="198" width="11" height="11" fill="#f0f6fd"/><rect x="374" y="198" width="10" height="11" fill="#c3daee"/><rect x="384" y="198" width="11" height="11" fill="#4b98ca"/><rect x="395" y="198" width="11" height="11" fill="#cbdef1"/><rect x="406" y="198" width="10" height="11" fill="#9fcae1"/><rect x="416" y="198" width="11" height="11" fill="#c3daee"/><rect x="427" y="198" width="11" height="11" fill="#91c3de"/><rect x="438" y="198" width="11" height="11" fill="#b7d4ea"/><rect x="449" y="198" width="10" height="11" fill="#b7d4ea"/><rect x="459" y="198" width="11" height="11" fill="#abd0e6"/><rect x="470" y="198" width="11" height="11" fill="#b7d4ea"/><rect x="481" y="198" width="10" height="11" fill="#b7d4ea"/><rect x="491" y="198" width="11" height="11" fill="#c3daee"/><rect x="502" y="198" width="11" height="11" fill="#9fcae1"/><rect x="513" y="198" width="10" height="11" fill="#c3daee"/><rect x="523" y="198" width="11" height="11" fill="#c3daee"/><rect x="534" y="198" width="11" height="11" fill="#abd0e6"/><rect x="545" y="198" width="10" height="11" fill="#b2d2e8"/><rect x="555" y="198" width="11" height="11" fill="#abd0e6"/><rect x="566" y="198" width="11" height="11" fill="#64a9d3"/><rect x="577" y="198" width="11" height="11" fill="#c3daee"/><rect x="588" y="198" width="10" height="11" fill="#abd0e6"/><rect x="598" y="198" width="11" height="11" fill="#d3e3f3"/><rect x="609" y="198" width="11" height="11" fill="#c3daee"/><rect x="620" y="198" width="10" height="11" fill="#d3e3f3"/><rect x="630" y="198" width="11" height="11" fill="#d3e3f3"/><rect x="310" y="209" width="10" height="10" fill="#f6faff"/><rect x="320" y="209" width="11" height="10" fill="#f0f6fd"/><rect x="331" y="209" width="11" height="10" fill="#f0f6fd"/><rect x="342" y="209" width="10" height="10" fill="#f4f9fe"/><rect x="352" y="209" width="11" height="10" fill="#c3daee"/><rect x="363" y="209" width="11" height="10" fill="#f4f9fe"/><rect x="374" y="209" width="10" height="10" fill="#e1edf8"/><rect x="384" y="209" width="11" height="10" fill="#4090c5"/><rect x="395" y="209" width="11" height="10" fill="#e1edf8"/><rect x="406" y="209" width="10" height="10" fill="#abd0e6"/><rect x="416" y="209" width="11" height="10" fill="#abd0e6"/><rect x="427" y="209" width="11" height="10" fill="#abd0e6"/><rect x="438" y="209" width="11" height="10" fill="#abd0e6"/><rect x="449" y="209" width="10" height="10" fill="#abd0e6"/><rect x="459" y="209" width="11" height="10" fill="#a5cde3"/><rect x="470" y="209" width="11" height="10" fill="#abd0e6"/><rect x="481" y="209" width="10" height="10" fill="#97c6df"/><rect x="491" y="209" width="11" height="10" fill="#abd0e6"/><rect x="502" y="209" width="11" height="10" fill="#b7d4ea"/><rect x="513" y="209" width="10" height="10" fill="#abd0e6"/><rect x="523" y="209" width="11" height="10" fill="#abd0e6"/><rect x="534" y="209" width="11" height="10" fill="#9fcae1"/><rect x="545" y="209" width="10" height="10" fill="#c3daee"/><rect x="555" y="209" width="11" height="10" fill="#bdd7ec"/><rect x="566" y="209" width="11" height="10" fill="#b2d2e8"/><rect x="577" y="209" width="11" height="10" fill="#c3daee"/><rect x="588" y="209" width="10" height="10" fill="#abd0e6"/><rect x="598" y="209" width="11" height="10" fill="#abd0e6"/><rect x="609" y="209" width="11" height="10" fill="#91c3de"/><rect x="620" y="209" width="10" height="10" fill="#abd0e6"/><rect x="630" y="209" width="11" height="10" fill="#abd0e6"/><rect x="331" y="219" width="11" height="11" fill="#f4f9fe"/><rect x="342" y="219" width="10" height="11" fill="#f0f6fd"/><rect x="352" y="219" width="11" height="11" fill="#ecf4fb"/><rect x="363" y="219" width="11" height="11" fill="#ecf4fb"/><rect x="374" y="219" width="10" height="11" fill="#cbdef1"/><rect x="384" y="219" width="11" height="11" fill="#abd0e6"/><rect x="395" y="219" width="11" height="11" fill="#ecf4fb"/><rect x="406" y="219" width="10" height="11" fill="#64a9d3"/><rect x="416" y="219" width="11" height="11" fill="#4b98ca"/><rect x="427" y="219" width="11" height="11" fill="#64a9d3"/><rect x="438" y="219" width="11" height="11" fill="#64a9d3"/><rect x="449" y="219" width="10" height="11" fill="#64a9d3"/><rect x="459" y="219" width="11" height="11" fill="#64a9d3"/><rect x="470" y="219" width="11" height="11" fill="#64a9d3"/><rect x="481" y="219" width="10" height="11" fill="#64a9d3"/><rect x="491" y="219" width="11" height="11" fill="#64a9d3"/><rect x="502" y="219" width="11" height="11" fill="#81badb"/><rect x="513" y="219" width="10" height="11" fill="#58a1cf"/><rect x="523" y="219" width="11" height="11" fill="#58a1cf"/><rect x="534" y="219" width="11" height="11" fill="#64a9d3"/><rect x="545" y="219" width="10" height="11" fill="#72b2d8"/><rect x="555" y="219" width="11" height="11" fill="#72b2d8"/><rect x="566" y="219" width="11" height="11" fill="#64a9d3"/><rect x="577" y="219" width="11" height="11" fill="#81badb"/><rect x="588" y="219" width="10" height="11" fill="#72b2d8"/><rect x="598" y="219" width="11" height="11" fill="#72b2d8"/><rect x="609" y="219" width="11" height="11" fill="#4b98ca"/><rect x="620" y="219" width="10" height="11" fill="#72b2d8"/><rect x="630" y="219" width="11" height="11" fill="#72b2d8"/><rect x="342" y="230" width="10" height="11" fill="#f4f9fe"/><rect x="352" y="230" width="11" height="11" fill="#abd0e6"/><rect x="363" y="230" width="11" height="11" fill="#d6e6f4"/><rect x="374" y="230" width="10" height="11" fill="#4b98ca"/><rect x="384" y="230" width="11" height="11" fill="#e8f1fa"/><rect x="395" y="230" width="11" height="11" fill="#abd0e6"/><rect x="406" y="230" width="10" height="11" fill="#9fcae1"/><rect x="416" y="230" width="11" height="11" fill="#2d7dbb"/><rect x="427" y="230" width="11" height="11" fill="#abd0e6"/><rect x="438" y="230" width="11" height="11" fill="#81badb"/><rect x="449" y="230" width="10" height="11" fill="#72b2d8"/><rect x="459" y="230" width="11" height="11" fill="#91c3de"/><rect x="470" y="230" width="11" height="11" fill="#72b2d8"/><rect x="481" y="230" width="10" height="11" fill="#72b2d8"/><rect x="491" y="230" width="11" height="11" fill="#4b98ca"/><rect x="502" y="230" width="11" height="11" fill="#abd0e6"/><rect x="513" y="230" width="10" height="11" fill="#2d7dbb"/><rect x="523" y="230" width="11" height="11" fill="#4b98ca"/><rect x="534" y="230" width="11" height="11" fill="#4b98ca"/><rect x="545" y="230" width="10" height="11" fill="#9fcae1"/><rect x="555" y="230" width="11" height="11" fill="#91c3de"/><rect x="566" y="230" width="11" height="11" fill="#c3daee"/><rect x="577" y="230" width="11" height="11" fill="#72b2d8"/><rect x="588" y="230" width="10" height="11" fill="#91c3de"/><rect x="598" y="230" width="11" height="11" fill="#64a9d3"/><rect x="609" y="230" width="11" height="11" fill="#72b2d8"/><rect x="620" y="230" width="10" height="11" fill="#64a9d3"/><rect x="630" y="230" width="11" height="11" fill="#64a9d3"/><rect x="352" y="241" width="11" height="10" fill="#e1edf8"/><rect x="363" y="241" width="11" height="10" fill="#f0f6fd"/><rect x="374" y="241" width="10" height="10" fill="#e5eff9"/><rect x="384" y="241" width="11" height="10" fill="#2272b6"/><rect x="395" y="241" width="11" height="10" fill="#b7d4ea"/><rect x="406" y="241" width="10" height="10" fill="#b2d2e8"/><rect x="416" y="241" width="11" height="10" fill="#9fcae1"/><rect x="427" y="241" width="11" height="10" fill="#b7d4ea"/><rect x="438" y="241" width="11" height="10" fill="#b7d4ea"/><rect x="449" y="241" width="10" height="10" fill="#abd0e6"/><rect x="459" y="241" width="11" height="10" fill="#abd0e6"/><rect x="470" y="241" width="11" height="10" fill="#abd0e6"/><rect x="481" y="241" width="10" height="10" fill="#abd0e6"/><rect x="491" y="241" width="11" height="10" fill="#b2d2e8"/><rect x="502" y="241" width="11" height="10" fill="#b7d4ea"/><rect x="513" y="241" width="10" height="10" fill="#9fcae1"/><rect x="523" y="241" width="11" height="10" fill="#abd0e6"/><rect x="534" y="241" width="11" height="10" fill="#9fcae1"/><rect x="545" y="241" width="10" height="10" fill="#b7d4ea"/><rect x="555" y="241" width="11" height="10" fill="#bdd7ec"/><rect x="566" y="241" width="11" height="10" fill="#bdd7ec"/><rect x="577" y="241" width="11" height="10" fill="#c3daee"/><rect x="588" y="241" width="10" height="10" fill="#b7d4ea"/><rect x="598" y="241" width="11" height="10" fill="#bdd7ec"/><rect x="609" y="241" width="11" height="10" fill="#9fcae1"/><rect x="620" y="241" width="10" height="10" fill="#c8dcf0"/><rect x="630" y="241" width="11" height="10" fill="#b7d4ea"/><rect x="363" y="251" width="11" height="11" fill="#64a9d3"/><rect x="374" y="251" width="10" height="11" fill="#f5fafe"/><rect x="384" y="251" width="11" height="11" fill="#f5fafe"/><rect x="395" y="251" width="11" height="11" fill="#f4f9fe"/><rect x="406" y="251" width="10" height="11" fill="#4090c5"/><rect x="416" y="251" width="11" height="11" fill="#083877"/><rect x="427" y="251" width="11" height="11" fill="#4b98ca"/><rect x="438" y="251" width="11" height="11" fill="#4090c5"/><rect x="449" y="251" width="10" height="11" fill="#1a68ae"/><rect x="459" y="251" width="11" height="11" fill="#3686c0"/><rect x="470" y="251" width="11" height="11" fill="#2272b6"/><rect x="481" y="251" width="10" height="11" fill="#2d7dbb"/><rect x="491" y="251" width="11" height="11" fill="#084c95"/><rect x="502" y="251" width="11" height="11" fill="#64a9d3"/><rect x="513" y="251" width="10" height="11" fill="#08306b"/><rect x="523" y="251" width="11" height="11" fill="#084c95"/><rect x="534" y="251" width="11" height="11" fill="#084c95"/><rect x="545" y="251" width="10" height="11" fill="#58a1cf"/><rect x="555" y="251" width="11" height="11" fill="#4090c5"/><rect x="566" y="251" width="11" height="11" fill="#58a1cf"/><rect x="577" y="251" width="11" height="11" fill="#4b98ca"/><rect x="588" y="251" width="10" height="11" fill="#3686c0"/><rect x="598" y="251" width="11" height="11" fill="#3686c0"/><rect x="609" y="251" width="11" height="11" fill="#2d7dbb"/><rect x="620" y="251" width="10" height="11" fill="#3686c0"/><rect x="630" y="251" width="11" height="11" fill="#4090c5"/><rect x="374" y="262" width="10" height="11" fill="#b7d4ea"/><rect x="384" y="262" width="11" height="11" fill="#5da5d1"/><rect x="395" y="262" width="11" height="11" fill="#b7d4ea"/><rect x="406" y="262" width="10" height="11" fill="#d6e6f4"/><rect x="416" y="262" width="11" height="11" fill="#b2d2e8"/><rect x="427" y="262" width="11" height="11" fill="#b2d2e8"/><rect x="438" y="262" width="11" height="11" fill="#cbdef1"/><rect x="449" y="262" width="10" height="11" fill="#d3e3f3"/><rect x="459" y="262" width="11" height="11" fill="#cbdef1"/><rect x="470" y="262" width="11" height="11" fill="#d3e3f3"/><rect x="481" y="262" width="10" height="11" fill="#c3daee"/><rect x="491" y="262" width="11" height="11" fill="#b2d2e8"/><rect x="502" y="262" width="11" height="11" fill="#e5eff9"/><rect x="513" y="262" width="10" height="11" fill="#abd0e6"/><rect x="523" y="262" width="11" height="11" fill="#cbdef1"/><rect x="534" y="262" width="11" height="11" fill="#81badb"/><rect x="545" y="262" width="10" height="11" fill="#ecf4fb"/><rect x="555" y="262" width="11" height="11" fill="#d9e8f5"/><rect x="566" y="262" width="11" height="11" fill="#abd0e6"/><rect x="577" y="262" width="11" height="11" fill="#cbdef1"/><rect x="588" y="262" width="10" height="11" fill="#cbdef1"/><rect x="598" y="262" width="11" height="11" fill="#cbdef1"/><rect x="609" y="262" width="11" height="11" fill="#c3daee"/><rect x="620" y="262" width="10" height="11" fill="#b2d2e8"/><rect x="630" y="262" width="11" height="11" fill="#c3daee"/><rect x="406" y="273" width="10" height="11" fill="#4090c5"/><rect x="416" y="273" width="11" height="11" fill="#1a68ae"/><rect x="427" y="273" width="11" height="11" fill="#4b98ca"/><rect x="438" y="273" width="11" height="11" fill="#4b98ca"/><rect x="449" y="273" width="10" height="11" fill="#3686c0"/><rect x="459" y="273" width="11" height="11" fill="#4090c5"/><rect x="470" y="273" width="11" height="11" fill="#2d7dbb"/><rect x="481" y="273" width="10" height="11" fill="#3686c0"/><rect x="491" y="273" width="11" height="11" fill="#2d7dbb"/><rect x="502" y="273" width="11" height="11" fill="#4090c5"/><rect x="513" y="273" width="10" height="11" fill="#2272b6"/><rect x="523" y="273" width="11" height="11" fill="#3686c0"/><rect x="534" y="273" width="11" height="11" fill="#2272b6"/><rect x="545" y="273" width="10" height="11" fill="#4090c5"/><rect x="555" y="273" width="11" height="11" fill="#4090c5"/><rect x="566" y="273" width="11" height="11" fill="#58a1cf"/><rect x="577" y="273" width="11" height="11" fill="#58a1cf"/><rect x="588" y="273" width="10" height="11" fill="#3686c0"/><rect x="598" y="273" width="11" height="11" fill="#4b98ca"/><rect x="609" y="273" width="11" height="11" fill="#4090c5"/><rect x="620" y="273" width="10" height="11" fill="#64a9d3"/><rect x="630" y="273" width="11" height="11" fill="#4b98ca"/><rect x="395" y="284" width="11" height="10" fill="#f5fafe"/><rect x="406" y="284" width="10" height="10" fill="#58a1cf"/><rect x="416" y="284" width="11" height="10" fill="#2272b6"/><rect x="427" y="284" width="11" height="10" fill="#64a9d3"/><rect x="438" y="284" width="11" height="10" fill="#58a1cf"/><rect x="449" y="284" width="10" height="10" fill="#58a1cf"/><rect x="459" y="284" width="11" height="10" fill="#4b98ca"/><rect x="470" y="284" width="11" height="10" fill="#58a1cf"/><rect x="481" y="284" width="10" height="10" fill="#4090c5"/><rect x="491" y="284" width="11" height="10" fill="#4090c5"/><rect x="502" y="284" width="11" height="10" fill="#4b98ca"/><rect x="513" y="284" width="10" height="10" fill="#2d7dbb"/><rect x="523" y="284" width="11" height="10" fill="#4b98ca"/><rect x="534" y="284" width="11" height="10" fill="#3686c0"/><rect x="545" y="284" width="10" height="10" fill="#4b98ca"/><rect x="555" y="284" width="11" height="10" fill="#64a9d3"/><rect x="566" y="284" width="11" height="10" fill="#81badb"/><rect x="577" y="284" width="11" height="10" fill="#58a1cf"/><rect x="588" y="284" width="10" height="10" fill="#58a1cf"/><rect x="598" y="284" width="11" height="10" fill="#4b98ca"/><rect x="609" y="284" width="11" height="10" fill="#4b98ca"/><rect x="620" y="284" width="10" height="10" fill="#64a9d3"/><rect x="630" y="284" width="11" height="10" fill="#4b98ca"/><rect x="406" y="294" width="10" height="11" fill="#72b2d8"/><rect x="416" y="294" width="11" height="11" fill="#2272b6"/><rect x="427" y="294" width="11" height="11" fill="#9fcae1"/><rect x="438" y="294" width="11" height="11" fill="#91c3de"/><rect x="449" y="294" width="10" height="11" fill="#64a9d3"/><rect x="459" y="294" width="11" height="11" fill="#81badb"/><rect x="470" y="294" width="11" height="11" fill="#64a9d3"/><rect x="481" y="294" width="10" height="11" fill="#64a9d3"/><rect x="491" y="294" width="11" height="11" fill="#4090c5"/><rect x="502" y="294" width="11" height="11" fill="#81badb"/><rect x="513" y="294" width="10" height="11" fill="#2272b6"/><rect x="523" y="294" width="11" height="11" fill="#4090c5"/><rect x="534" y="294" width="11" height="11" fill="#3686c0"/><rect x="545" y="294" width="10" height="11" fill="#72b2d8"/><rect x="555" y="294" width="11" height="11" fill="#72b2d8"/><rect x="566" y="294" width="11" height="11" fill="#9fcae1"/><rect x="577" y="294" width="11" height="11" fill="#81badb"/><rect x="588" y="294" width="10" height="11" fill="#64a9d3"/><rect x="598" y="294" width="11" height="11" fill="#64a9d3"/><rect x="609" y="294" width="11" height="11" fill="#64a9d3"/><rect x="620" y="294" width="10" height="11" fill="#72b2d8"/><rect x="630" y="294" width="11" height="11" fill="#64a9d3"/><rect x="416" y="305" width="11" height="11" fill="#f2f7fd"/><rect x="427" y="305" width="11" height="11" fill="#f5fafe"/><rect x="438" y="305" width="11" height="11" fill="#f5fafe"/><rect x="449" y="305" width="10" height="11" fill="#f6faff"/><rect x="459" y="305" width="11" height="11" fill="#f6faff"/><rect x="470" y="305" width="11" height="11" fill="#f6faff"/><rect x="481" y="305" width="10" height="11" fill="#f5fafe"/><rect x="491" y="305" width="11" height="11" fill="#f4f9fe"/><rect x="502" y="305" width="11" height="11" fill="#f5fafe"/><rect x="513" y="305" width="10" height="11" fill="#f4f9fe"/><rect x="523" y="305" width="11" height="11" fill="#f4f9fe"/><rect x="534" y="305" width="11" height="11" fill="#f4f9fe"/><rect x="545" y="305" width="10" height="11" fill="#f5fafe"/><rect x="555" y="305" width="11" height="11" fill="#f6faff"/><rect x="566" y="305" width="11" height="11" fill="#f6faff"/><rect x="577" y="305" width="11" height="11" fill="#f6faff"/><rect x="588" y="305" width="10" height="11" fill="#f6faff"/><rect x="598" y="305" width="11" height="11" fill="#f0f6fd"/><rect x="609" y="305" width="11" height="11" fill="#f0f6fd"/><rect x="620" y="305" width="10" height="11" fill="#d9e8f5"/><rect x="630" y="305" width="11" height="11" fill="#f0f6fd"/><rect x="427" y="316" width="11" height="10" fill="#f2f7fd"/><rect x="438" y="316" width="11" height="10" fill="#e5eff9"/><rect x="449" y="316" width="10" height="10" fill="#f5fafe"/><rect x="459" y="316" width="11" height="10" fill="#d6e6f4"/><rect x="470" y="316" width="11" height="10" fill="#f4f9fe"/><rect x="481" y="316" width="10" height="10" fill="#b2d2e8"/><rect x="491" y="316" width="11" height="10" fill="#f5fafe"/><rect x="502" y="316" width="11" height="10" fill="#f5fafe"/><rect x="513" y="316" width="10" height="10" fill="#f6faff"/><rect x="523" y="316" width="11" height="10" fill="#f6faff"/><rect x="534" y="316" width="11" height="10" fill="#f5fafe"/><rect x="545" y="316" width="10" height="10" fill="#f4f9fe"/><rect x="555" y="316" width="11" height="10" fill="#f4f9fe"/><rect x="566" y="316" width="11" height="10" fill="#e8f1fa"/><rect x="577" y="316" width="11" height="10" fill="#e8f1fa"/><rect x="588" y="316" width="10" height="10" fill="#d3e3f3"/><rect x="598" y="316" width="11" height="10" fill="#91c3de"/><rect x="609" y="316" width="11" height="10" fill="#91c3de"/><rect x="620" y="316" width="10" height="10" fill="#4090c5"/><rect x="630" y="316" width="11" height="10" fill="#81badb"/><rect x="438" y="326" width="11" height="11" fill="#f6faff"/><rect x="449" y="326" width="10" height="11" fill="#f4f9fe"/><rect x="459" y="326" width="11" height="11" fill="#f4f9fe"/><rect x="470" y="326" width="11" height="11" fill="#f2f7fd"/><rect x="481" y="326" width="10" height="11" fill="#f4f9fe"/><rect x="491" y="326" width="11" height="11" fill="#f2f7fd"/><rect x="502" y="326" width="11" height="11" fill="#f0f6fd"/><rect x="513" y="326" width="10" height="11" fill="#f2f7fd"/><rect x="523" y="326" width="11" height="11" fill="#f2f7fd"/><rect x="534" y="326" width="11" height="11" fill="#f0f6fd"/><rect x="545" y="326" width="10" height="11" fill="#f0f6fd"/><rect x="555" y="326" width="11" height="11" fill="#f2f7fd"/><rect x="566" y="326" width="11" height="11" fill="#f4f9fe"/><rect x="577" y="326" width="11" height="11" fill="#f4f9fe"/><rect x="588" y="326" width="10" height="11" fill="#f4f9fe"/><rect x="598" y="326" width="11" height="11" fill="#f0f6fd"/><rect x="609" y="326" width="11" height="11" fill="#ddeaf7"/><rect x="620" y="326" width="10" height="11" fill="#e8f1fa"/><rect x="630" y="326" width="11" height="11" fill="#f0f6fd"/><rect x="449" y="337" width="10" height="11" fill="#ecf4fb"/><rect x="459" y="337" width="11" height="11" fill="#f5fafe"/><rect x="470" y="337" width="11" height="11" fill="#e5eff9"/><rect x="481" y="337" width="10" height="11" fill="#f4f9fe"/><rect x="491" y="337" width="11" height="11" fill="#e8f1fa"/><rect x="502" y="337" width="11" height="11" fill="#d3e3f3"/><rect x="513" y="337" width="10" height="11" fill="#ecf4fb"/><rect x="523" y="337" width="11" height="11" fill="#e8f1fa"/><rect x="534" y="337" width="11" height="11" fill="#ecf4fb"/><rect x="545" y="337" width="10" height="11" fill="#d9e8f5"/><rect x="555" y="337" width="11" height="11" fill="#ecf4fb"/><rect x="566" y="337" width="11" height="11" fill="#f4f9fe"/><rect x="577" y="337" width="11" height="11" fill="#f4f9fe"/><rect x="588" y="337" width="10" height="11" fill="#f4f9fe"/><rect x="598" y="337" width="11" height="11" fill="#f4f9fe"/><rect x="609" y="337" width="11" height="11" fill="#d6e6f4"/><rect x="620" y="337" width="10" height="11" fill="#f4f9fe"/><rect x="630" y="337" width="11" height="11" fill="#e8f1fa"/><rect x="459" y="348" width="11" height="10" fill="#e8f1fa"/><rect x="470" y="348" width="11" height="10" fill="#f6faff"/><rect x="481" y="348" width="10" height="10" fill="#e1edf8"/><rect x="491" y="348" width="11" height="10" fill="#f4f9fe"/><rect x="502" y="348" width="11" height="10" fill="#f5fafe"/><rect x="513" y="348" width="10" height="10" fill="#f4f9fe"/><rect x="523" y="348" width="11" height="10" fill="#f4f9fe"/><rect x="534" y="348" width="11" height="10" fill="#f4f9fe"/><rect x="545" y="348" width="10" height="10" fill="#f4f9fe"/><rect x="555" y="348" width="11" height="10" fill="#f4f9fe"/><rect x="566" y="348" width="11" height="10" fill="#f0f6fd"/><rect x="577" y="348" width="11" height="10" fill="#f0f6fd"/><rect x="588" y="348" width="10" height="10" fill="#e8f1fa"/><rect x="598" y="348" width="11" height="10" fill="#c8dcf0"/><rect x="609" y="348" width="11" height="10" fill="#e1edf8"/><rect x="620" y="348" width="10" height="10" fill="#abd0e6"/><rect x="630" y="348" width="11" height="10" fill="#cbdef1"/><rect x="470" y="358" width="11" height="11" fill="#f0f6fd"/><rect x="481" y="358" width="10" height="11" fill="#f5fafe"/><rect x="491" y="358" width="11" height="11" fill="#e8f1fa"/><rect x="502" y="358" width="11" height="11" fill="#d9e8f5"/><rect x="513" y="358" width="10" height="11" fill="#d9e8f5"/><rect x="523" y="358" width="11" height="11" fill="#d3e3f3"/><rect x="534" y="358" width="11" height="11" fill="#f0f6fd"/><rect x="545" y="358" width="10" height="11" fill="#ddeaf7"/><rect x="555" y="358" width="11" height="11" fill="#f0f6fd"/><rect x="566" y="358" width="11" height="11" fill="#f0f6fd"/><rect x="577" y="358" width="11" height="11" fill="#f4f9fe"/><rect x="588" y="358" width="10" height="11" fill="#f4f9fe"/><rect x="598" y="358" width="11" height="11" fill="#f4f9fe"/><rect x="609" y="358" width="11" height="11" fill="#e8f1fa"/><rect x="620" y="358" width="10" height="11" fill="#f0f6fd"/><rect x="630" y="358" width="11" height="11" fill="#f0f6fd"/><rect x="481" y="369" width="10" height="11" fill="#e1edf8"/><rect x="491" y="369" width="11" height="11" fill="#f5fafe"/><rect x="502" y="369" width="11" height="11" fill="#f5fafe"/><rect x="513" y="369" width="10" height="11" fill="#f5fafe"/><rect x="523" y="369" width="11" height="11" fill="#f5fafe"/><rect x="534" y="369" width="11" height="11" fill="#f4f9fe"/><rect x="545" y="369" width="10" height="11" fill="#f4f9fe"/><rect x="555" y="369" width="11" height="11" fill="#f4f9fe"/><rect x="566" y="369" width="11" height="11" fill="#f0f6fd"/><rect x="577" y="369" width="11" height="11" fill="#e5eff9"/><rect x="588" y="369" width="10" height="11" fill="#f0f6fd"/><rect x="598" y="369" width="11" height="11" fill="#cfe1f2"/><rect x="609" y="369" width="11" height="11" fill="#ddeaf7"/><rect x="620" y="369" width="10" height="11" fill="#abd0e6"/><rect x="630" y="369" width="11" height="11" fill="#cbdef1"/><rect x="491" y="380" width="11" height="10" fill="#e1edf8"/><rect x="502" y="380" width="11" height="10" fill="#cbdef1"/><rect x="513" y="380" width="10" height="10" fill="#cbdef1"/><rect x="523" y="380" width="11" height="10" fill="#b7d4ea"/><rect x="534" y="380" width="11" height="10" fill="#e5eff9"/><rect x="545" y="380" width="10" height="10" fill="#d3e3f3"/><rect x="555" y="380" width="11" height="10" fill="#ecf4fb"/><rect x="566" y="380" width="11" height="10" fill="#f0f6fd"/><rect x="577" y="380" width="11" height="10" fill="#f4f9fe"/><rect x="588" y="380" width="10" height="10" fill="#f4f9fe"/><rect x="598" y="380" width="11" height="10" fill="#f4f9fe"/><rect x="609" y="380" width="11" height="10" fill="#ecf4fb"/><rect x="620" y="380" width="10" height="10" fill="#ecf4fb"/><rect x="630" y="380" width="11" height="10" fill="#f4f9fe"/><rect x="502" y="390" width="11" height="11" fill="#f5fafe"/><rect x="513" y="390" width="10" height="11" fill="#f5fafe"/><rect x="523" y="390" width="11" height="11" fill="#f4f9fe"/><rect x="534" y="390" width="11" height="11" fill="#f5fafe"/><rect x="545" y="390" width="10" height="11" fill="#f5fafe"/><rect x="555" y="390" width="11" height="11" fill="#f4f9fe"/><rect x="566" y="390" width="11" height="11" fill="#f0f6fd"/><rect x="577" y="390" width="11" height="11" fill="#e8f1fa"/><rect x="588" y="390" width="10" height="11" fill="#ecf4fb"/><rect x="598" y="390" width="11" height="11" fill="#c3daee"/><rect x="609" y="390" width="11" height="11" fill="#d3e3f3"/><rect x="620" y="390" width="10" height="11" fill="#9fcae1"/><rect x="630" y="390" width="11" height="11" fill="#c3daee"/><rect x="513" y="401" width="10" height="11" fill="#f5fafe"/><rect x="523" y="401" width="11" height="11" fill="#f5fafe"/><rect x="534" y="401" width="11" height="11" fill="#f5fafe"/><rect x="566" y="401" width="11" height="11" fill="#e8f1fa"/><rect x="577" y="401" width="11" height="11" fill="#d3e3f3"/><rect x="588" y="401" width="10" height="11" fill="#e8f1fa"/><rect x="598" y="401" width="11" height="11" fill="#c3daee"/><rect x="609" y="401" width="11" height="11" fill="#c8dcf0"/><rect x="620" y="401" width="10" height="11" fill="#b2d2e8"/><rect x="630" y="401" width="11" height="11" fill="#c8dcf0"/><rect x="566" y="412" width="11" height="11" fill="#e8f1fa"/><rect x="577" y="412" width="11" height="11" fill="#ecf4fb"/><rect x="588" y="412" width="10" height="11" fill="#e1edf8"/><rect x="598" y="412" width="11" height="11" fill="#9fcae1"/><rect x="609" y="412" width="11" height="11" fill="#a5cde3"/><rect x="620" y="412" width="10" height="11" fill="#58a1cf"/><rect x="630" y="412" width="11" height="11" fill="#91c3de"/><rect x="566" y="423" width="11" height="10" fill="#e8f1fa"/><rect x="577" y="423" width="11" height="10" fill="#e8f1fa"/><rect x="588" y="423" width="10" height="10" fill="#d3e3f3"/><rect x="598" y="423" width="11" height="10" fill="#9fcae1"/><rect x="609" y="423" width="11" height="10" fill="#abd0e6"/><rect x="620" y="423" width="10" height="10" fill="#58a1cf"/><rect x="630" y="423" width="11" height="10" fill="#91c3de"/><rect x="545" y="433" width="10" height="11" fill="#f6faff"/><rect x="555" y="433" width="11" height="11" fill="#f5fafe"/><rect x="566" y="433" width="11" height="11" fill="#ecf4fb"/><rect x="577" y="433" width="11" height="11" fill="#e5eff9"/><rect x="588" y="433" width="10" height="11" fill="#f0f6fd"/><rect x="598" y="433" width="11" height="11" fill="#c3daee"/><rect x="609" y="433" width="11" height="11" fill="#cbdef1"/><rect x="620" y="433" width="10" height="11" fill="#9fcae1"/><rect x="630" y="433" width="11" height="11" fill="#c3daee"/><rect x="555" y="444" width="11" height="11" fill="#f6faff"/><rect x="566" y="444" width="11" height="11" fill="#e8f1fa"/><rect x="577" y="444" width="11" height="11" fill="#cfe1f2"/><rect x="588" y="444" width="10" height="11" fill="#f0f6fd"/><rect x="598" y="444" width="11" height="11" fill="#bdd7ec"/><rect x="609" y="444" width="11" height="11" fill="#c3daee"/><rect x="620" y="444" width="10" height="11" fill="#a5cde3"/><rect x="630" y="444" width="11" height="11" fill="#cbdef1"/><rect x="566" y="455" width="11" height="10" fill="#f0f6fd"/><rect x="577" y="455" width="11" height="10" fill="#e8f1fa"/><rect x="588" y="455" width="10" height="10" fill="#f5fafe"/><rect x="598" y="455" width="11" height="10" fill="#d9e8f5"/><rect x="609" y="455" width="11" height="10" fill="#e8f1fa"/><rect x="620" y="455" width="10" height="10" fill="#c8dcf0"/><rect x="630" y="455" width="11" height="10" fill="#d9e8f5"/><rect x="577" y="465" width="11" height="11" fill="#f4f9fe"/><rect x="588" y="465" width="10" height="11" fill="#ecf4fb"/><rect x="598" y="465" width="11" height="11" fill="#ecf4fb"/><rect x="609" y="465" width="11" height="11" fill="#ddeaf7"/><rect x="620" y="465" width="10" height="11" fill="#d3e3f3"/><rect x="630" y="465" width="11" height="11" fill="#e1edf8"/><rect x="588" y="476" width="10" height="11" fill="#f5fafe"/><rect x="598" y="476" width="11" height="11" fill="#f0f6fd"/><rect x="609" y="476" width="11" height="11" fill="#c3daee"/><rect x="620" y="476" width="10" height="11" fill="#e8f1fa"/><rect x="630" y="476" width="11" height="11" fill="#e8f1fa"/><rect x="598" y="487" width="11" height="10" fill="#e8f1fa"/><rect x="609" y="487" width="11" height="10" fill="#ecf4fb"/><rect x="620" y="487" width="10" height="10" fill="#d6e6f4"/><rect x="630" y="487" width="11" height="10" fill="#e1edf8"/><rect x="609" y="497" width="11" height="11" fill="#f4f9fe"/><rect x="620" y="497" width="10" height="11" fill="#f4f9fe"/><rect x="630" y="497" width="11" height="11" fill="#f5fafe"/><rect x="620" y="508" width="10" height="11" fill="#f6faff"/><rect x="630" y="508" width="11" height="11" fill="#f6faff"/>
</g>
<g shape-rendering="crispEdges">
<path d="M165.5 60v6.2M165.5 540v-6.2M160 65.5h6.2M640 65.5h-6.2M176.5 60v6.2M176.5 540v-6.2M160 76.5h6.2M640 76.5h-6.2M187.5 60v6.2M187.5 540v-6.2M160 87.5h6.2M640 87.5h-6.2M197.5 60v6.2M197.5 540v-6.2M160 97.5h6.2M640 97.5h-6.2M208.5 60v6.2M208.5 540v-6.2M160 108.5h6.2M640 108.5h-6.2M219.5 60v6.2M219.5 540v-6.2M160 119.5h6.2M640 119.5h-6.2M229.5 60v6.2M229.5 540v-6.2M160 129.5h6.2M640 129.5h-6.2M240.5 60v6.2M240.5 540v-6.2M160 140.5h6.2M640 140.5h-6.2M251.5 60v6.2M251.5 540v-6.2M160 151.5h6.2M640 151.5h-6.2M261.5 60v6.2M261.5 540v-6.2M160 161.5h6.2M640 161.5h-6.2M272.5 60v6.2M272.5 540v-6.2M160 172.5h6.2M640 172.5h-6.2M283.5 60v6.2M283.5 540v-6.2M160 183.5h6.2M640 183.5h-6.2M293.5 60v6.2M293.5 540v-6.2M160 193.5h6.2M640 193.5h-6.2M304.5 60v6.2M304.5 540v-6.2M160 204.5h6.2M640 204.5h-6.2M315.5 60v6.2M315.5 540v-6.2M160 215.5h6.2M640 215.5h-6.2M325.5 60v6.2M325.5 540v-6.2M160 225.5h6.2M640 225.5h-6.2M336.5 60v6.2M336.5 540v-6.2M160 236.5h6.2M640 236.5h-6.2M347.5 60v6.2M347.5 540v-6.2M160 247.5h6.2M640 247.5h-6.2M357.5 60v6.2M357.5 540v-6.2M160 257.5h6.2M640 257.5h-6.2M368.5 60v6.2M368.5 540v-6.2M160 268.5h6.2M640 268.5h-6.2M379.5 60v6.2M379.5 540v-6.2M160 279.5h6.2M640 279.5h-6.2M389.5 60v6.2M389.5 540v-6.2M160 289.5h6.2M640 289.5h-6.2M400.5 60v6.2M400.5 540v-6.2M160 300.5h6.2M640 300.5h-6.2M411.5 60v6.2M411.5 540v-6.2M160 311.5h6.2M640 311.5h-6.2M421.5 60v6.2M421.5 540v-6.2M160 321.5h6.2M640 321.5h-6.2M432.5 60v6.2M432.5 540v-6.2M160 332.5h6.2M640 332.5h-6.2M443.5 60v6.2M443.5 540v-6.2M160 343.5h6.2M640 343.5h-6.2M453.5 60v6.2M453.5 540v-6.2M160 353.5h6.2M640 353.5h-6.2M464.5 60v6.2M464.5 540v-6.2M160 364.5h6.2M640 364.5h-6.2M475.5 60v6.2M475.5 540v-6.2M160 375.5h6.2M640 375.5h-6.2M485.5 60v6.2M485.5 540v-6.2M160 385.5h6.2M640 385.5h-6.2M496.5 60v6.2M496.5 540v-6.2M160 396.5h6.2M640 396.5h-6.2M507.5 60v6.2M507.5 540v-6.2M160 407.5h6.2M640 407.5h-6.2M517.5 60v6.2M517.5 540v-6.2M160 417.5h6.2M640 417.5h-6.2M528.5 60v6.2M528.5 540v-6.2M160 428.5h6.2M640 428.5h-6.2M539.5 60v6.2M539.5 540v-6.2M160 439.5h6.2M640 439.5h-6.2M549.5 60v6.2M549.5 540v-6.2M160 449.5h6.2M640 449.5h-6.2M560.5 60v6.2M560.5 540v-6.2M160 460.5h6.2M640 460.5h-6.2M571.5 60v6.2M571.5 540v-6.2M160 471.5h6.2M640 471.5h-6.2M581.5 60v6.2M581.5 540v-6.2M160 481.5h6.2M640 481.5h-6.2M592.5 60v6.2M592.5 540v-6.2M160 492.5h6.2M640 492.5h-6.2M603.5 60v6.2M603.5 540v-6.2M160 503.5h6.2M640 503.5h-6.2M613.5 60v6.2M613.5 540v-6.2M160 513.5h6.2M640 513.5h-6.2M624.5 60v6.2M624.5 540v-6.2M160 524.5h6.2M640 524.5h-6.2M635.5 60v6.2M635.5 540v-6.2M160 535.5h6.2M640 535.5h-6.2" stroke="#000" stroke-width="1" fill="none"/>
<rect x="680" y="60" width="16" height="480" fill="url(#cb)"/>
<path d="M696 540.5h-6.2M696 486.5h-6.2M696 432.5h-6.2M696 379.5h-6.2M696 325.5h-6.2M696 272.5h-6.2M696 218.5h-6.2M696 164.5h-6.2M696 111.5h-6.2" stroke="#000" stroke-width="1" fill="none"/>
</g>
<rect x="160.3" y="60.3" width="480.3" height="480" fill="none" stroke="#000" stroke-width="1.39"/><rect x="680.5" y="60.3" width="16" height="480" fill="none" stroke="#000" stroke-width="1.39"/>
</svg>
<svg class="t" width="800" height="600" viewBox="0 0 800 600">
<text x="165.33" y="54" text-anchor="middle">C1'</text><text x="155" y="71.33" text-anchor="end">C1'</text><text x="218.67" y="54" text-anchor="middle">C4'</text><text x="155" y="124.67" text-anchor="end">C4'</text><text x="272.00" y="54" text-anchor="middle">N1</text><text x="155" y="178.00" text-anchor="end">N1</text><text x="325.33" y="54" text-anchor="middle">O2'</text><text x="155" y="231.33" text-anchor="end">O2'</text><text x="378.67" y="54" text-anchor="middle">OP1</text><text x="155" y="284.67" text-anchor="end">OP1</text><text x="432.00" y="54" text-anchor="middle">C2'</text><text x="155" y="338.00" text-anchor="end">C2'</text><text x="485.33" y="54" text-anchor="middle">C5'</text><text x="155" y="391.33" text-anchor="end">C5'</text><text x="538.67" y="54" text-anchor="middle">N6</text><text x="155" y="444.67" text-anchor="end">N6</text><text x="592.00" y="54" text-anchor="middle">O4'</text><text x="155" y="498.00" text-anchor="end">O4'</text><text x="701" y="546.00" letter-spacing="0.75">0.00</text><text x="701" y="492.42" letter-spacing="0.75">0.03</text><text x="701" y="438.84" letter-spacing="0.75">0.06</text><text x="701" y="385.26" letter-spacing="0.75">0.09</text><text x="701" y="331.68" letter-spacing="0.75">0.12</text><text x="701" y="278.10" letter-spacing="0.75">0.15</text><text x="701" y="224.52" letter-spacing="0.75">0.18</text><text x="701" y="170.94" letter-spacing="0.75">0.21</text><text x="701" y="117.36" letter-spacing="0.75">0.24</text>
</svg></body></html>
